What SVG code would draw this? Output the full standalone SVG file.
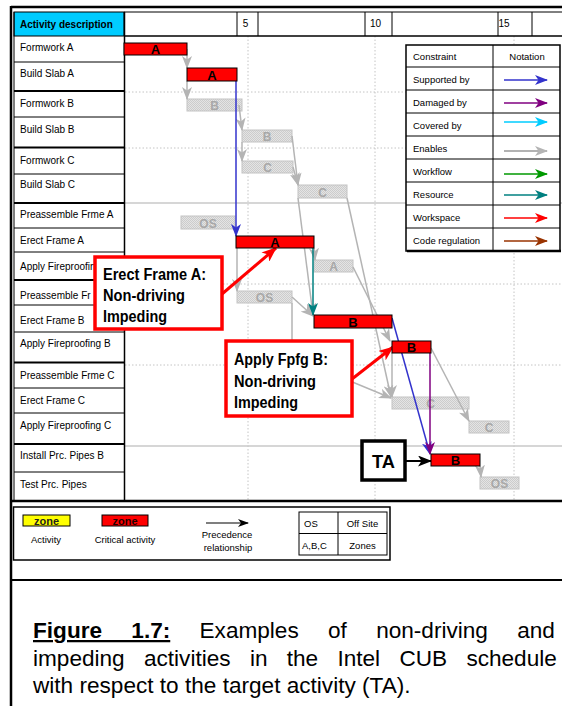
<svg xmlns="http://www.w3.org/2000/svg" width="562" height="706" viewBox="0 0 562 706">
<style>
text{font-family:"Liberation Sans",Arial,sans-serif;}
.lbl{font-size:10px;fill:#000;}
.lg{font-size:9.5px;fill:#000;}
.rbar{fill:#ff0000;stroke:#000;stroke-width:1;}
.gbar{fill:url(#dither);stroke:#c4c4c4;stroke-width:1;}
.rtxt{font-size:13px;font-weight:bold;fill:#000;text-anchor:middle;}
.gtxt{font-size:12px;font-weight:bold;fill:#a8a8a8;text-anchor:middle;}
.grid{stroke:#c4c4c4;stroke-width:1;stroke-dasharray:1.5 2;fill:none;}
.gsol{stroke:#c8c8c8;stroke-width:1.5;fill:none;}
.tl{stroke:#000;stroke-width:1;fill:none;}
.tg{stroke:#000;stroke-width:2;fill:none;}
.cg{stroke:#b4b4b4;stroke-width:1.5;fill:none;marker-end:url(#mg);}
.call{fill:#fff;stroke:#ff0000;stroke-width:3.5;}
.ctxt{font-size:16px;font-weight:bold;fill:#000;}
.cap{font-size:22.6px;fill:#000;}
</style>
<defs>
<pattern id="dither" width="2" height="2" patternUnits="userSpaceOnUse">
<rect width="2" height="2" fill="#e4e4e4"/><rect width="1" height="1" fill="#cccccc"/><rect x="1" y="1" width="1" height="1" fill="#cccccc"/>
</pattern>
<marker id="mg" markerUnits="userSpaceOnUse" markerWidth="13" markerHeight="10" refX="12" refY="5" orient="auto"><path d="M0,0 L13,5 L0,10 L3.5,5 Z" fill="#b4b4b4"/></marker>
<marker id="mb" markerUnits="userSpaceOnUse" markerWidth="13" markerHeight="10" refX="12" refY="5" orient="auto"><path d="M0,0 L13,5 L0,10 L3.5,5 Z" fill="#3333cc"/></marker>
<marker id="mp" markerUnits="userSpaceOnUse" markerWidth="13" markerHeight="10" refX="12" refY="5" orient="auto"><path d="M0,0 L13,5 L0,10 L3.5,5 Z" fill="#800080"/></marker>
<marker id="mc" markerUnits="userSpaceOnUse" markerWidth="13" markerHeight="10" refX="12" refY="5" orient="auto"><path d="M0,0 L13,5 L0,10 L3.5,5 Z" fill="#00ccff"/></marker>
<marker id="mgr" markerUnits="userSpaceOnUse" markerWidth="13" markerHeight="10" refX="12" refY="5" orient="auto"><path d="M0,0 L13,5 L0,10 L3.5,5 Z" fill="#009900"/></marker>
<marker id="mt" markerUnits="userSpaceOnUse" markerWidth="13" markerHeight="10" refX="12" refY="5" orient="auto"><path d="M0,0 L13,5 L0,10 L3.5,5 Z" fill="#008080"/></marker>
<marker id="mr" markerUnits="userSpaceOnUse" markerWidth="13" markerHeight="10" refX="12" refY="5" orient="auto"><path d="M0,0 L13,5 L0,10 L3.5,5 Z" fill="#ff0000"/></marker>
<marker id="mbr" markerUnits="userSpaceOnUse" markerWidth="13" markerHeight="10" refX="12" refY="5" orient="auto"><path d="M0,0 L13,5 L0,10 L3.5,5 Z" fill="#993300"/></marker>
<marker id="mrb" markerUnits="userSpaceOnUse" markerWidth="15" markerHeight="12" refX="14" refY="6" orient="auto"><path d="M0,0 L15,6 L0,12 L4,6 Z" fill="#ff0000"/></marker>
<marker id="mk" markerUnits="userSpaceOnUse" markerWidth="14" markerHeight="11" refX="13" refY="5.5" orient="auto"><path d="M0,0 L14,5.5 L0,11 L3.5,5.5 Z" fill="#000"/></marker>
<marker id="mks" markerUnits="userSpaceOnUse" markerWidth="11" markerHeight="8" refX="10" refY="4" orient="auto"><path d="M0,0 L11,4 L0,8 L3,4 Z" fill="#000"/></marker>
</defs>
<rect width="562" height="706" fill="#fff"/>

<!-- outer frame -->
<g id="frame">
<line x1="11" y1="7" x2="562" y2="7" stroke="#000" stroke-width="2.5"/>
<line x1="11" y1="6" x2="11" y2="706" stroke="#000" stroke-width="2.5"/>
<line x1="11" y1="580" x2="562" y2="580" stroke="#000" stroke-width="2"/>
</g>

<!-- grid -->
<g id="grid">
<line class="grid" x1="248" y1="36" x2="248" y2="500"/>
<line class="grid" x1="375" y1="36" x2="375" y2="500"/>
<line class="grid" x1="514" y1="36" x2="514" y2="500"/>
<line class="grid" x1="125" y1="92" x2="562" y2="92"/>
<line class="grid" x1="125" y1="148" x2="562" y2="148"/>
<line class="gsol" x1="125" y1="203" x2="562" y2="203"/>
<line class="grid" x1="125" y1="284" x2="562" y2="284"/>
<line class="grid" x1="125" y1="365" x2="562" y2="365"/>
<line class="gsol" x1="125" y1="446" x2="562" y2="446"/>
</g>

<!-- header -->
<g id="header">
<rect x="14" y="12" width="110" height="24" fill="#00ccff" stroke="#000" stroke-width="1"/>
<text x="20" y="28" class="lbl" font-weight="bold">Activity description</text>
<line class="tl" x1="124" y1="12" x2="562" y2="12"/>
<line x1="124" y1="36" x2="562" y2="36" stroke="#000" stroke-width="1.5"/>
<line class="tl" x1="237" y1="12" x2="237" y2="36"/>
<line class="tl" x1="258" y1="12" x2="258" y2="36"/>
<line class="tl" x1="365" y1="12" x2="365" y2="36"/>
<line class="tl" x1="392" y1="12" x2="392" y2="36"/>
<line class="tl" x1="498" y1="12" x2="498" y2="36"/>
<line class="tl" x1="532" y1="12" x2="532" y2="36"/>
<text x="245.5" y="27" class="lbl" text-anchor="middle">5</text>
<text x="375.5" y="27" class="lbl" text-anchor="middle">10</text>
<text x="504" y="27" class="lbl" text-anchor="middle">15</text>
</g>

<!-- activity list -->
<g id="activity-list">
<line class="tl" x1="14" y1="12" x2="14" y2="501"/>
<line x1="124.5" y1="12" x2="124.5" y2="501" stroke="#000" stroke-width="1.5"/>
<line class="tl" x1="14" y1="62" x2="124" y2="62"/>
<line class="tg" x1="14" y1="91" x2="124" y2="91"/>
<line class="tl" x1="14" y1="117" x2="124" y2="117"/>
<line class="tg" x1="14" y1="147.5" x2="124" y2="147.5"/>
<line class="tl" x1="14" y1="174" x2="124" y2="174"/>
<line class="tg" x1="14" y1="203" x2="124" y2="203"/>
<line class="tl" x1="14" y1="228" x2="124" y2="228"/>
<line class="tl" x1="14" y1="252" x2="124" y2="252"/>
<line class="tg" x1="14" y1="280" x2="124" y2="280"/>
<line class="tl" x1="14" y1="305" x2="124" y2="305"/>
<line class="tl" x1="14" y1="332" x2="124" y2="332"/>
<line class="tg" x1="14" y1="362.5" x2="124" y2="362.5"/>
<line class="tl" x1="14" y1="388" x2="124" y2="388"/>
<line class="tl" x1="14" y1="413" x2="124" y2="413"/>
<line class="tg" x1="14" y1="444" x2="124" y2="444"/>
<line class="tl" x1="14" y1="472" x2="124" y2="472"/>
<text x="20" y="51" class="lbl">Formwork A</text>
<text x="20" y="77" class="lbl">Build Slab A</text>
<text x="20" y="107" class="lbl">Formwork B</text>
<text x="20" y="133" class="lbl">Build Slab B</text>
<text x="20" y="164" class="lbl">Formwork C</text>
<text x="20" y="188" class="lbl">Build Slab C</text>
<text x="20" y="218" class="lbl">Preassemble Frme A</text>
<text x="20" y="244" class="lbl">Erect Frame A</text>
<text x="20" y="270" class="lbl">Apply Fireproofin</text>
<text x="20" y="299" class="lbl">Preassemble Fr</text>
<text x="20" y="324" class="lbl">Erect Frame B</text>
<text x="20" y="347" class="lbl">Apply Fireproofing B</text>
<text x="20" y="379" class="lbl">Preassemble Frme C</text>
<text x="20" y="404" class="lbl">Erect Frame C</text>
<text x="20" y="429" class="lbl">Apply Fireproofing C</text>
<text x="20" y="459" class="lbl">Install Prc. Pipes B</text>
<text x="20" y="488" class="lbl">Test Prc. Pipes</text>
<line x1="11" y1="501" x2="562" y2="501" stroke="#000" stroke-width="2.5"/>
</g>

<!-- gray (non-critical) bars -->
<g id="formwork-b"><rect class="gbar" x="187" y="99" width="55" height="12"/><text class="gtxt" x="214.5" y="110">B</text></g>
<g id="build-slab-b"><rect class="gbar" x="242" y="130" width="50" height="12"/><text class="gtxt" x="267" y="141">B</text></g>
<g id="formwork-c"><rect class="gbar" x="242" y="161" width="51" height="12"/><text class="gtxt" x="267.5" y="172">C</text></g>
<g id="build-slab-c"><rect class="gbar" x="298" y="185" width="49" height="13"/><text class="gtxt" x="322.5" y="196.5">C</text></g>
<g id="preassemble-a"><rect class="gbar" x="181" y="216" width="54" height="13"/><text class="gtxt" x="208" y="227.5">OS</text></g>
<g id="fireproof-a"><rect class="gbar" x="314" y="260" width="39" height="12"/><text class="gtxt" x="333.5" y="271">A</text></g>
<g id="preassemble-b"><rect class="gbar" x="237" y="291" width="55" height="12"/><text class="gtxt" x="264.5" y="302">OS</text></g>
<g id="erect-c"><rect class="gbar" x="392" y="397" width="77" height="12"/><text class="gtxt" x="430.5" y="408">C</text></g>
<g id="fireproof-c"><rect class="gbar" x="469" y="421" width="40" height="12"/><text class="gtxt" x="489" y="432">C</text></g>
<g id="test-pipes"><rect class="gbar" x="480" y="477" width="39" height="12"/><text class="gtxt" x="499.5" y="488">OS</text></g>

<!-- connectors -->
<g id="connectors">
<path class="cg" d="M187,49 L187,68"/>
<path class="cg" d="M187,81 L187,99"/>
<path class="cg" d="M239,105 L242,130"/>
<path class="cg" d="M242,142 L242,161"/>
<path class="cg" d="M292,136 L298,185"/>
<path class="cg" d="M293,167 L298,185"/>
<path class="cg" d="M298,198 L313,315"/>
<path class="cg" d="M347,198 L391,397"/>
<path class="cg" d="M353,267 L390,341"/>
<path class="cg" d="M237,248 L237,291"/>
<path class="cg" d="M314,248 L315,260"/>
<path class="cg" d="M292,297 L313,316"/>
<path class="cg" d="M292,303 L292,357 L391,398"/>
<path class="cg" d="M392,353 L392,397"/>
<path class="cg" d="M431,348 L469,421"/>
<path class="cg" d="M480,466 L481,477"/>
<path d="M236,74 L236,236" stroke="#3333cc" stroke-width="1.5" fill="none" marker-end="url(#mb)"/>
<path d="M392,318 L430,454" stroke="#3333cc" stroke-width="1.5" fill="none" marker-end="url(#mb)"/>
<path d="M430,353 L430,454" stroke="#800080" stroke-width="1.5" fill="none" marker-end="url(#mp)"/>
<path d="M313,238 L313,315" stroke="#008080" stroke-width="1.5" fill="none" marker-end="url(#mt)"/>
<path d="M405,461 L431,461" stroke="#000" stroke-width="2" fill="none" marker-end="url(#mk)"/>
<path d="M222,294 L276,248" stroke="#ff0000" stroke-width="3" fill="none" marker-end="url(#mrb)"/>
<path d="M352,379 L393,347" stroke="#ff0000" stroke-width="3" fill="none" marker-end="url(#mrb)"/>
</g>

<!-- critical bars -->
<g id="formwork-a"><rect class="rbar" x="124" y="43" width="63" height="12"/><text class="rtxt" x="155.5" y="54">A</text></g>
<g id="build-slab-a"><rect class="rbar" x="187" y="68" width="50" height="13"/><text class="rtxt" x="212" y="80">A</text></g>
<g id="erect-a"><rect class="rbar" x="236" y="236" width="78" height="12"/><text class="rtxt" x="275" y="247">A</text></g>
<g id="erect-b"><rect class="rbar" x="314" y="315" width="78" height="13"/><text class="rtxt" x="353" y="327">B</text></g>
<g id="fireproof-b"><rect class="rbar" x="392" y="341" width="39" height="12"/><text class="rtxt" x="411.5" y="352">B</text></g>
<g id="install-pipes-b"><rect class="rbar" x="431" y="454" width="49" height="12"/><text class="rtxt" x="455.5" y="465">B</text></g>

<!-- constraint legend -->
<g id="constraint-legend">
<rect x="406" y="45" width="154" height="206" fill="#fff" stroke="#000" stroke-width="1.5"/>
<line x1="407" y1="251" x2="561" y2="251" stroke="#000" stroke-width="2.5"/>
<line class="tl" x1="493" y1="45" x2="493" y2="251"/>
<line class="tl" x1="406" y1="67" x2="560" y2="67"/>
<line class="tl" x1="406" y1="90" x2="560" y2="90"/>
<line class="tl" x1="406" y1="113" x2="560" y2="113"/>
<line class="tl" x1="406" y1="136" x2="560" y2="136"/>
<line class="tl" x1="406" y1="159" x2="560" y2="159"/>
<line class="tl" x1="406" y1="182" x2="560" y2="182"/>
<line class="tl" x1="406" y1="205" x2="560" y2="205"/>
<line class="tl" x1="406" y1="228" x2="560" y2="228"/>
<text x="413" y="60" class="lg">Constraint</text>
<text x="527" y="60" class="lg" text-anchor="middle">Notation</text>
<text x="413" y="83" class="lg">Supported by</text>
<text x="413" y="106" class="lg">Damaged by</text>
<text x="413" y="129" class="lg">Covered by</text>
<text x="413" y="152" class="lg">Enables</text>
<text x="413" y="175" class="lg">Workflow</text>
<text x="413" y="198" class="lg">Resource</text>
<text x="413" y="221" class="lg">Workspace</text>
<text x="413" y="244" class="lg">Code regulation</text>
<path d="M504,80 L547,80" stroke="#3333cc" stroke-width="1.5" marker-end="url(#mb)"/>
<path d="M504,103 L547,103" stroke="#800080" stroke-width="1.5" marker-end="url(#mp)"/>
<path d="M504,122 L547,122" stroke="#00ccff" stroke-width="1.5" marker-end="url(#mc)"/>
<path d="M504,151 L547,151" stroke="#999999" stroke-width="1.5" marker-end="url(#mg)"/>
<path d="M504,174 L547,174" stroke="#009900" stroke-width="1.5" marker-end="url(#mgr)"/>
<path d="M504,195 L547,195" stroke="#008080" stroke-width="1.5" marker-end="url(#mt)"/>
<path d="M504,218 L547,218" stroke="#ff0000" stroke-width="1.5" marker-end="url(#mr)"/>
<path d="M504,241 L547,241" stroke="#993300" stroke-width="1.5" marker-end="url(#mbr)"/>
</g>

<!-- callouts -->
<g id="callout-erect-a">
<rect class="call" x="95" y="257" width="127" height="72"/>
<text class="ctxt" x="103" y="280" textLength="103" lengthAdjust="spacingAndGlyphs">Erect Frame A:</text>
<text class="ctxt" x="103" y="301" textLength="82" lengthAdjust="spacingAndGlyphs">Non-driving</text>
<text class="ctxt" x="103" y="322" textLength="64" lengthAdjust="spacingAndGlyphs">Impeding</text>
</g>
<g id="callout-fpfg-b">
<rect class="call" x="226" y="341" width="126" height="75"/>
<text class="ctxt" x="234" y="365" textLength="94" lengthAdjust="spacingAndGlyphs">Apply Fpfg B:</text>
<text class="ctxt" x="234" y="387" textLength="82" lengthAdjust="spacingAndGlyphs">Non-driving</text>
<text class="ctxt" x="234" y="408" textLength="64" lengthAdjust="spacingAndGlyphs">Impeding</text>
</g>
<g id="ta">
<rect x="362" y="441" width="43" height="39" fill="#fff" stroke="#000" stroke-width="3.5"/>
<text x="383.5" y="468" font-size="19" font-weight="bold" text-anchor="middle" textLength="23" lengthAdjust="spacingAndGlyphs">TA</text>
</g>

<!-- bottom legend -->
<g id="bar-legend">
<rect x="13.5" y="507" width="376.5" height="53" fill="#fff" stroke="#000" stroke-width="1.5"/>
<rect x="23" y="515" width="47" height="11" fill="#ffff00" stroke="#000" stroke-width="1"/>
<text x="46.5" y="524.5" font-size="11" font-weight="bold" text-anchor="middle" fill="#222">zone</text>
<rect x="102" y="515" width="46" height="11" fill="#ff0000" stroke="#000" stroke-width="1"/>
<text x="125" y="524.5" font-size="11" font-weight="bold" text-anchor="middle" fill="#220000">zone</text>
<text x="46" y="543" class="lg" text-anchor="middle">Activity</text>
<text x="125" y="543" class="lg" text-anchor="middle">Critical activity</text>
<path d="M206,523 L248,523" stroke="#000" stroke-width="1.2" marker-end="url(#mks)"/>
<text x="227" y="538" class="lg" text-anchor="middle">Precedence</text>
<text x="228" y="551" class="lg" text-anchor="middle">relationship</text>
<rect x="299" y="512" width="88" height="43" fill="none" stroke="#000" stroke-width="1"/>
<line class="tl" x1="338" y1="512" x2="338" y2="555"/>
<line class="tl" x1="299" y1="533.5" x2="387" y2="533.5"/>
<text x="304" y="527" class="lg">OS</text>
<text x="362.5" y="527" class="lg" text-anchor="middle">Off Site</text>
<text x="302" y="549" class="lg">A,B,C</text>
<text x="362.5" y="549" class="lg" text-anchor="middle">Zones</text>
</g>

<!-- caption -->
<g id="caption">
<text class="cap" x="33" y="638" word-spacing="23"><tspan font-weight="bold" text-decoration="underline">Figure 1.7:</tspan> Examples of non-driving and</text>
<text class="cap" x="33" y="666" word-spacing="13">impeding activities in the Intel CUB schedule</text>
<text class="cap" x="33" y="693">with respect to the target activity (TA).</text>
</g>
</svg>
